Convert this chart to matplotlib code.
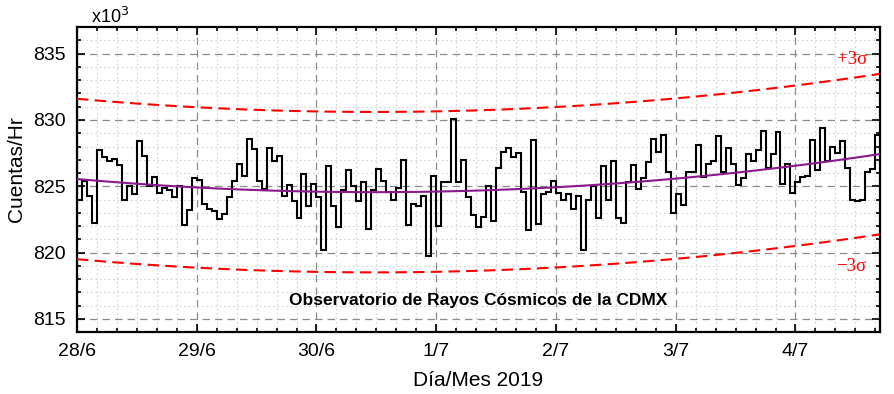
import numpy as np
import matplotlib
matplotlib.use("Agg")
import matplotlib.pyplot as plt
from matplotlib.ticker import MultipleLocator, FixedLocator, FixedFormatter

# ---- data (counts per hour, in units of 10^3) ----
day_labels = ["28/6", "29/6", "30/6", "1/7", "2/7", "3/7", "4/7"]
hours_per_day = 24
counts_k = [
    824.0, 825.4, 824.3, 822.2, 827.7, 827.2, 826.9, 827.05, 826.6, 824.0,
    825.0, 824.4, 828.4, 827.3, 825.0, 825.7, 824.5, 824.9, 824.7, 824.2,
    825.0, 822.1, 823.2, 825.6, 825.5, 823.7, 823.3, 823.15, 822.5, 822.9,
    824.2, 825.4, 826.7, 825.8, 828.6, 827.8, 825.4, 824.8, 827.9, 826.9,
    827.3, 824.3, 825.1, 823.9, 822.6, 825.9, 823.5, 825.2, 824.2, 820.2,
    826.55, 823.5, 821.9, 824.7, 826.2, 825.0, 823.9, 825.3, 821.8, 824.7,
    826.3, 825.4, 824.6, 824.0, 824.9, 827.0, 822.1, 823.65, 823.5, 824.25,
    819.75, 825.8, 822.0, 825.3, 825.35, 830.1, 825.3, 827.0, 824.2, 822.8,
    821.9, 822.7, 825.0, 822.35, 826.35, 827.55, 827.9, 827.2, 827.5, 824.6,
    821.7, 828.5, 822.15, 824.45, 824.6, 825.4, 824.5, 824.0, 824.4, 823.3,
    824.3, 820.2, 824.0, 825.0, 822.6, 826.5, 823.95, 826.9, 822.6, 822.2,
    825.3, 826.6, 824.8, 825.6, 826.8, 828.55, 827.55, 828.9, 826.1, 822.95,
    824.4, 823.6, 826.05, 826.05, 828.1, 825.7, 826.7, 826.9, 828.8, 826.1,
    827.9, 826.7, 825.1, 825.6, 827.4, 826.9, 827.7, 829.2, 826.4, 827.4,
    829.1, 825.2, 826.7, 824.5, 825.3, 825.7, 825.8, 828.5, 826.2, 829.4,
    826.9, 828.0, 827.5, 828.4, 826.4, 824.0, 823.9, 824.0, 826.1, 826.3,
    828.9,
]
# quadratic trend (value = c2*h^2 + c1*h + c0, h in hours) and 3-sigma width
trend_coeffs = [2.797e-4, -0.03333, 825.55]
three_sigma = 6.05
x_end_hours = 160.9

plt.rcParams['font.family'] = ['Liberation Sans', 'DejaVu Sans']

fig = plt.figure(figsize=(8.95, 3.94), dpi=100)
ax = fig.add_axes([0.086, 0.157, 0.897, 0.774])

edges = np.arange(len(counts_k) + 1)
ax.stairs(counts_k, edges, color='black', lw=1.5, baseline=None, zorder=4)

xt = np.linspace(0, x_end_hours, 400)
trend = np.polyval(trend_coeffs, xt)
ax.plot(xt, trend, color='#8B1A8B', lw=1.5, zorder=5)
ax.plot(xt, trend + three_sigma, color='red', lw=1.5, ls=(0, (5.5, 3)), zorder=3)
ax.plot(xt, trend - three_sigma, color='red', lw=1.5, ls=(0, (5.5, 3)), zorder=3)

ax.set_xlim(0, x_end_hours)
ax.set_ylim(814, 837)

ax.xaxis.set_major_locator(FixedLocator([i * hours_per_day for i in range(len(day_labels))]))
ax.xaxis.set_major_formatter(FixedFormatter(day_labels))
ax.xaxis.set_minor_locator(MultipleLocator(4))
ax.yaxis.set_major_locator(MultipleLocator(5))
ax.yaxis.set_minor_locator(MultipleLocator(1))

ax.grid(which='major', color='#8c8c8c', ls=(0, (6, 4)), lw=0.9)
ax.grid(which='minor', color='#d2d2d2', ls=(0, (1.5, 2.5)), lw=0.8)
ax.set_axisbelow(True)

ax.tick_params(which='both', direction='in', top=True, right=True, labelsize=14, width=1.2)
ax.tick_params(which='major', length=6, pad=8)
ax.tick_params(which='minor', length=3)
for s in ax.spines.values():
    s.set_linewidth(1.6)

ax.set_xlabel('Día/Mes 2019', fontsize=15, labelpad=8)
ax.set_ylabel('Cuentas/Hr', fontsize=15)
ax.yaxis.set_label_coords(-0.064, 0.533)

ax.text(0.018, 1.0, r'x10$^{3}$', transform=ax.transAxes, fontsize=13,
        ha='left', va='bottom')
ax.text(0.5, 0.105, 'Observatorio de Rayos Cósmicos de la CDMX', transform=ax.transAxes,
        fontsize=12.5, fontweight='bold', ha='center', va='center', zorder=6)
ax.text(155.3, 834.6, '+3σ', color='red', fontsize=13.5, family=['Liberation Serif', 'DejaVu Serif'],
        ha='center', va='center')
ax.text(155.1, 818.95, '−3σ', color='red', fontsize=13.5, family=['Liberation Serif', 'DejaVu Serif'],
        ha='center', va='center')

fig.savefig('out.png', dpi=100)
